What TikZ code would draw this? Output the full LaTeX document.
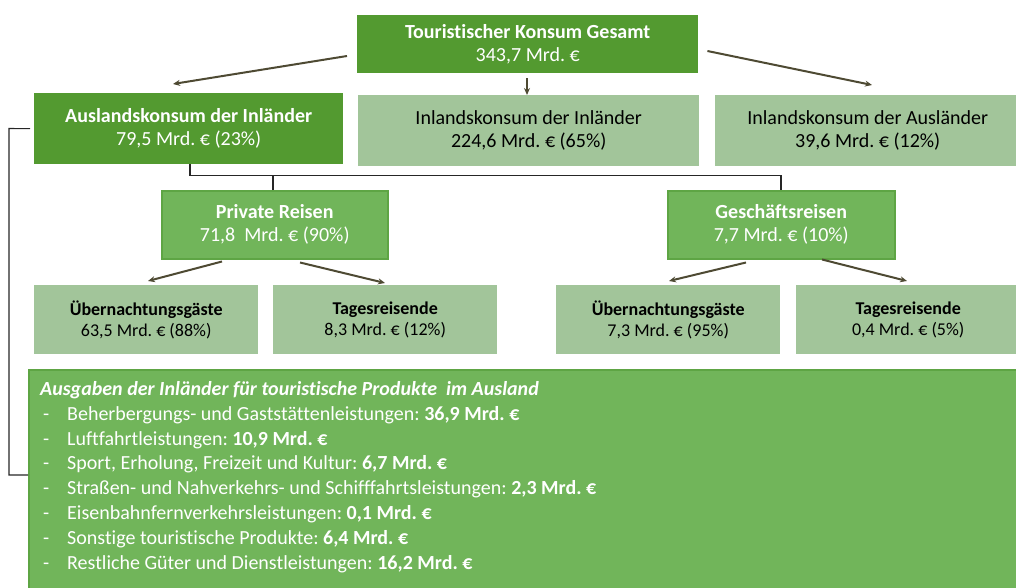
\documentclass[tikz,border=0pt]{standalone}
\usepackage{fontspec}
\setmainfont{Carlito}[Ligatures=NoCommon]
\usetikzlibrary{arrows.meta,positioning,calc}
\definecolor{dkgreen}{HTML}{539A30}
\definecolor{mdgreen}{HTML}{71B55A}
\definecolor{mdborder}{HTML}{5EA544}
\definecolor{ltgreen}{HTML}{A2C59A}
\definecolor{arrowc}{HTML}{4E4A33}
\tikzset{
  box/.style={rectangle, inner sep=0pt, align=center, anchor=north west},
  darkbox/.style={box, fill=dkgreen, text=white, font=\fontsize{20}{23}\selectfont},
  lightbox/.style={box, fill=ltgreen, text=black, font=\fontsize{20}{23}\selectfont},
  midbox/.style={box, fill=mdgreen, draw=mdborder, line width=1.5pt, text=white, font=\fontsize{20}{23}\selectfont},
  smallbox/.style={box, fill=ltgreen, text=black, font=\fontsize{18}{21}\selectfont},
  arr/.style={draw=arrowc, line width=2pt, -{Stealth[length=7pt,width=6pt]}},
  conn/.style={draw=black!85, line width=1.1pt},
}
\begin{document}
\frenchspacing
\begin{tikzpicture}[x=1pt,y=-1pt]
\useasboundingbox (0,0) rectangle (1016,588);
% top
\node[darkbox, minimum width=341, minimum height=58] (top) at (357,15)
  {\textbf{Touristischer Konsum Gesamt}\\343,7 Mrd. €};
% second row
\node[darkbox, minimum width=309, minimum height=71] (aus) at (34,93)
  {\textbf{Auslandskonsum der Inländer}\\79,5 Mrd. € (23\%)};
\node[lightbox, minimum width=341, minimum height=71] (inl) at (358,95)
  {Inlandskonsum der Inländer\\224,6 Mrd. € (65\%)};
\node[lightbox, minimum width=305, minimum height=71] (ausl) at (715,95)
  {Inlandskonsum der Ausländer\\39,6 Mrd. € (12\%)};
% third row
\node[midbox, minimum width=226, minimum height=68] (priv) at (161,190)
  {\textbf{Private Reisen}\\71,8\ \ Mrd. € (90\%)};
\node[midbox, minimum width=227, minimum height=68] (ges) at (667,190)
  {\textbf{Geschäftsreisen}\\7,7 Mrd. € (10\%)};
% fourth row
\node[smallbox, minimum width=224, minimum height=69] (ue1) at (34,285)
  {\textbf{Übernachtungsgäste}\\63,5 Mrd. € (88\%)};
\node[smallbox, minimum width=224, minimum height=69] (ta1) at (273,285)
  {\textbf{Tagesreisende}\\8,3 Mrd. € (12\%)};
\node[smallbox, minimum width=224, minimum height=69] (ue2) at (556,285)
  {\textbf{Übernachtungsgäste}\\7,3 Mrd. € (95\%)};
\node[smallbox, minimum width=224, minimum height=69] (ta2) at (796,285)
  {\textbf{Tagesreisende}\\0,4 Mrd. € (5\%)};
% bottom list box
\node[midbox, minimum width=994, minimum height=232] (list) at (28,369) {};
\node[anchor=north west, inner sep=0pt, align=left, text=white,
      font=\fontsize{20}{24.9}\selectfont] (listtext) at (40,381)
  {\textbf{\textit{Ausgaben der Inländer für touristische Produkte\ \ im Ausland}}\\
   \makebox[27pt][l]{\hspace{3pt}-}Beherbergungs- und Gaststättenleistungen: \textbf{36,9 Mrd. €}\\
   \makebox[27pt][l]{\hspace{3pt}-}Luftfahrtleistungen: \textbf{10,9 Mrd. €}\\
   \makebox[27pt][l]{\hspace{3pt}-}Sport, Erholung, Freizeit und Kultur: \textbf{6,7 Mrd. €}\\
   \makebox[27pt][l]{\hspace{3pt}-}Straßen- und Nahverkehrs- und Schifffahrtsleistungen: \textbf{2,3 Mrd. €}\\
   \makebox[27pt][l]{\hspace{3pt}-}Eisenbahnfernverkehrsleistungen: \textbf{0,1 Mrd. €}\\
   \makebox[27pt][l]{\hspace{3pt}-}Sonstige touristische Produkte: \textbf{6,4 Mrd. €}\\
   \makebox[27pt][l]{\hspace{3pt}-}Restliche Güter und Dienstleistungen: \textbf{16,2 Mrd. €}};
% arrows from top
\draw[arr] ($(top.north west)+(-10,41)$) -- ($(aus.north west)+(139,-9)$);
\draw[arr] ($(top.south west)+(170,5)$) -- ($(inl.north west)+(169,0)$);
\draw[arr] ($(top.north east)+(9,36)$) -- ($(ausl.north west)+(157,-10)$);
% arrows from third row
\draw[arr] ($(priv.south west)+(61,2)$) -- ($(ue1.north west)+(114,-4)$);
\draw[arr] ($(priv.south west)+(139,3)$) -- ($(ta1.north west)+(112,-2)$);
\draw[arr] ($(ges.south west)+(79,3)$) -- ($(ue2.north west)+(113,-4)$);
\draw[arr] ($(ges.south west)+(155,0)$) -- ($(ta2.north west)+(111,-4)$);
% tree connectors
\coordinate (bus) at ($(aus.south west)+(156,11)$);
\draw[conn] ($(aus.south west)+(156,0)$) -- (bus) -| ($(ges.north west)+(114,0)$);
\draw[conn] ($(priv.north west)+(112,0)$) |- (bus);
% bracket to list box
\coordinate (bk) at (28,475);
\draw[conn] ($(aus.west)+(-4,0)$) -- (9,128.5) -- (9,475) -- (bk);
\end{tikzpicture}
\end{document}
